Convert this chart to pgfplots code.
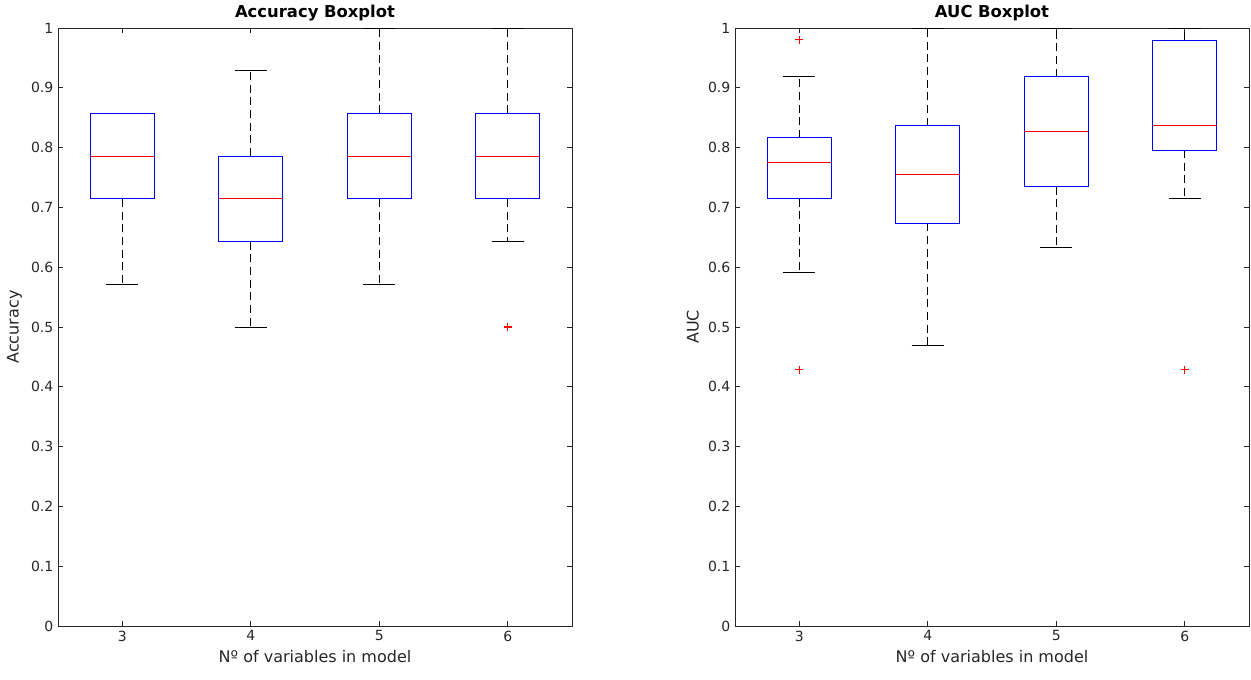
\documentclass[border=0pt]{standalone}
\usepackage{fontspec}
\setmainfont{DejaVu Sans}
\usepackage{pgfplots}
\pgfplotsset{compat=1.18}
\usepgfplotslibrary{statistics}
\definecolor{axgray}{gray}{0.15}
\pgfplotsset{
  mybox/.style={
    scale only axis, width=385.5pt, height=448.5pt,
    xmin=2.5, xmax=6.5, ymin=0, ymax=1,
    xtick={3,4,5,6},
    ytick={0,0.1,...,1},
    yticklabels={0,0.1,0.2,0.3,0.4,0.5,0.6,0.7,0.8,0.9,1},
    tick align=inside, major tick length=4pt,
    tick style={axgray, line width=0.5pt},
    axis line style={axgray, line width=0.5pt},
    ticklabel style={font=\fontsize{10.5}{12}\selectfont, text=axgray},
    /pgf/number format/assume math mode=true,
    label style={font=\fontsize{12}{14}\selectfont, text=axgray},
    title style={font=\fontsize{12.3}{14}\selectfont\bfseries, yshift=-4.5pt},
    xlabel={N\textordmasculine\ of variables in model},
    boxplot/draw direction=y,
    boxplot/box extend=0.5,
    boxplot/whisker extend=0.25,
    boxplot/every box/.style={draw=blue, line width=0.8pt},
    boxplot/every median/.style={draw=red, line width=0.8pt},
    boxplot/draw/lower whisker/.code={
      \draw[black, line width=0.7pt, dash pattern=on 6pt off 3.5pt]
        (boxplot box cs:\pgfplotsboxplotvalue{lower quartile},0.5) --
        (boxplot box cs:\pgfplotsboxplotvalue{lower whisker},0.5);
      \draw[black, line width=0.7pt]
        (boxplot whisker cs:\pgfplotsboxplotvalue{lower whisker},0) --
        (boxplot whisker cs:\pgfplotsboxplotvalue{lower whisker},1);
    },
    boxplot/draw/upper whisker/.code={
      \draw[black, line width=0.7pt, dash pattern=on 6pt off 3.5pt]
        (boxplot box cs:\pgfplotsboxplotvalue{upper quartile},0.5) --
        (boxplot box cs:\pgfplotsboxplotvalue{upper whisker},0.5);
      \draw[black, line width=0.7pt]
        (boxplot whisker cs:\pgfplotsboxplotvalue{upper whisker},0) --
        (boxplot whisker cs:\pgfplotsboxplotvalue{upper whisker},1);
    },
  },
  bx/.style={blue, line width=0.8pt, mark=none},
  outl/.style={red, only marks, mark=+, mark size=3pt, line width=0.8pt},
}
\begin{document}
\begin{tikzpicture}
\useasboundingbox (-43.5pt,-40.5pt) rectangle (894.75pt,469.5pt);
\begin{axis}[mybox, title={Accuracy Boxplot}, ylabel={Accuracy}]
\addplot[bx, boxplot prepared={draw position=3, lower whisker=0.5714, lower quartile=0.7143, median=0.7857, upper quartile=0.8571, upper whisker=0.8571}] coordinates {};
\addplot[bx, boxplot prepared={draw position=4, lower whisker=0.5, lower quartile=0.6429, median=0.7143, upper quartile=0.7857, upper whisker=0.9286}] coordinates {};
\addplot[bx, boxplot prepared={draw position=5, lower whisker=0.5714, lower quartile=0.7143, median=0.7857, upper quartile=0.8571, upper whisker=1}] coordinates {};
\addplot[bx, boxplot prepared={draw position=6, lower whisker=0.6429, lower quartile=0.7143, median=0.7857, upper quartile=0.8571, upper whisker=1}] coordinates {};
\addplot[outl] coordinates {(6,0.5)};
\end{axis}
\begin{axis}[mybox, at={(507.75pt,0)}, title={AUC Boxplot}, ylabel={AUC}]
\addplot[bx, boxplot prepared={draw position=3, lower whisker=0.592, lower quartile=0.7146, median=0.7755, upper quartile=0.8163, upper whisker=0.9184}] coordinates {};
\addplot[bx, boxplot prepared={draw position=4, lower whisker=0.4694, lower quartile=0.6735, median=0.7551, upper quartile=0.8367, upper whisker=1}] coordinates {};
\addplot[bx, boxplot prepared={draw position=5, lower whisker=0.6327, lower quartile=0.7347, median=0.8265, upper quartile=0.9184, upper whisker=1}] coordinates {};
\addplot[bx, boxplot prepared={draw position=6, lower whisker=0.7143, lower quartile=0.7959, median=0.8367, upper quartile=0.9796, upper whisker=1}] coordinates {};
\addplot[outl] coordinates {(3,0.98) (3,0.4286) (6,0.4286)};
\end{axis}
\end{tikzpicture}
\end{document}
